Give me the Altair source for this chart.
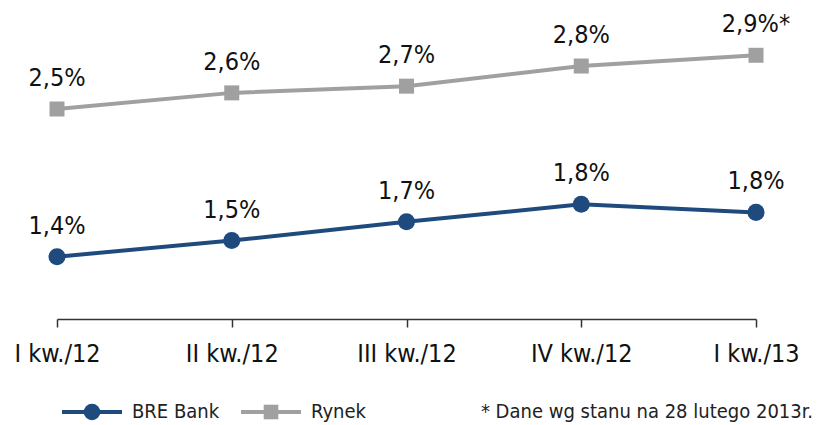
import altair as alt
import pandas as pd

quarters = ["I kw./12", "II kw./12", "III kw./12", "IV kw./12", "I kw./13"]
bre_values = [1.40, 1.52, 1.66, 1.79, 1.73]
rynek_values = [2.50, 2.62, 2.67, 2.82, 2.90]
bre_labels = ["1,4%", "1,5%", "1,7%", "1,8%", "1,8%"]
rynek_labels = ["2,5%", "2,6%", "2,7%", "2,8%", "2,9%*"]
series_names = ["BRE Bank", "Rynek"]
series_colors = ["#1F4A7E", "#A0A0A0"]
series_shapes = ["circle", "square"]
series_sizes = [290, 225]
footnote = ["* Dane wg stanu na 28 lutego 2013r."]

rows = []
for q, v, l in zip(quarters, bre_values, bre_labels):
    rows.append({"quarter": q, "value": v, "label": l, "series": "BRE Bank"})
for q, v, l in zip(quarters, rynek_values, rynek_labels):
    rows.append({"quarter": q, "value": v, "label": l, "series": "Rynek"})
df = pd.DataFrame(rows)

FONT = "DejaVu Sans Condensed"

color = alt.Color(
    "series:N",
    scale=alt.Scale(domain=series_names, range=series_colors),
    legend=None,
)

x = alt.X(
    "quarter:N",
    sort=quarters,
    scale=alt.Scale(type="point", padding=0),
    axis=alt.Axis(
        title=None,
        labelAngle=0,
        labelFont=FONT,
        labelFontSize=25,
        labelColor="#111111",
        labelPadding=14,
        domainColor="#333333",
        domainWidth=1.5,
        tickColor="#333333",
        tickWidth=1.5,
        tickSize=8,
        grid=False,
    ),
)
y = alt.Y(
    "value:Q",
    scale=alt.Scale(domain=[0.936, 3.2], zero=False, nice=False),
    axis=None,
)

base = alt.Chart(df)

layers = [base.mark_line(strokeWidth=4).encode(x=x, y=y, color=color, detail="series:N")]

for name, shp, sz in zip(series_names, series_shapes, series_sizes):
    layers.append(
        base.transform_filter(alt.datum.series == name)
        .mark_point(filled=True, opacity=1, shape=shp, size=sz)
        .encode(x=x, y=y, color=color)
    )

layers.append(
    base.mark_text(
        dy=-23, baseline="alphabetic", align="center", font=FONT, fontSize=25, color="#111111"
    ).encode(x=x, y=y, text="label:N")
)

# legend (line + marker glyph and name for each series)
legend_x = [35, 214]
legend_y = 397
for name, col, shp, sz, lx in zip(series_names, series_colors, series_shapes, series_sizes, legend_x):
    ldf = pd.DataFrame({"series": [name]})
    lb = alt.Chart(ldf)
    layers.append(
        lb.mark_rule(color=col, strokeWidth=4).encode(
            x=alt.value(lx - 30), x2=alt.value(lx + 30), y=alt.value(legend_y)
        )
    )
    layers.append(
        lb.mark_point(filled=True, opacity=1, shape=shp, size=sz * 0.95, color=col).encode(
            x=alt.value(lx), y=alt.value(legend_y)
        )
    )
    layers.append(
        lb.mark_text(align="left", baseline="middle", font=FONT, fontSize=20, color="#222222").encode(
            x=alt.value(lx + 40), y=alt.value(legend_y), text="series:N"
        )
    )

layers.append(
    alt.Chart(pd.DataFrame({"t": footnote})).mark_text(
        align="right", baseline="middle", font=FONT, fontSize=20, color="#222222"
    ).encode(x=alt.value(756), y=alt.value(397), text="t:N")
)

chart = (
    alt.layer(*layers)
    .properties(
        width=699,
        height=304,
        padding={"left": 49, "top": 7, "right": 57, "bottom": 106},
        autosize=alt.AutoSizeParams(type="none"),
    )
    .configure_view(stroke=None)
)

chart.save("out.html", embed_options={"renderer": "svg", "actions": False})
